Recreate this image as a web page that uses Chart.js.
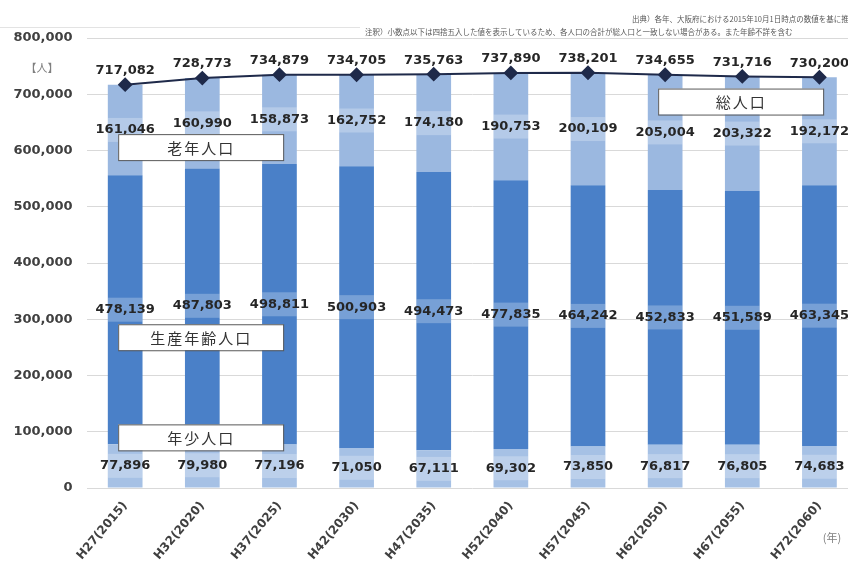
<!DOCTYPE html>
<html lang="ja">
<head>
<meta charset="utf-8">
<script src="https://cdn.jsdelivr.net/npm/chart.js@4.4.1/dist/chart.umd.min.js"></script>
<style>
  html, body { margin: 0; padding: 0; overflow: hidden; background: #fff; }
  #wrap { width: 866px; height: 566px; }
</style>
</head>
<body>
<div id="wrap"><canvas id="popChart" width="866" height="566"></canvas></div>
<script>
const years = ["H27(2015)", "H32(2020)", "H37(2025)", "H42(2030)", "H47(2035)",
               "H52(2040)", "H57(2045)", "H62(2050)", "H67(2055)", "H72(2060)"];
const young   = [77896, 79980, 77196, 71050, 67111, 69302, 73850, 76817, 76805, 74683];
const working = [478139, 487803, 498811, 500903, 494473, 477835, 464242, 452833, 451589, 463345];
const elderly = [161046, 160990, 158873, 162752, 174180, 190753, 200109, 205004, 203322, 192172];
const total   = [717082, 728773, 734879, 734705, 735763, 737890, 738201, 734655, 731716, 730200];
const yMax = 800000;
const yStep = 100000;

const fmt = (v) => v.toLocaleString("en-US");
const numFont = "bold 13px 'DejaVu Sans', sans-serif";
const jpFont = "15px 'Noto Sans CJK JP', sans-serif";

// labels in the middle of each segment, with a lighter band behind
const valueLabels = {
  id: "valueLabels",
  afterDatasetsDraw(chart) {
    const ctx = chart.ctx;
    ctx.save();
    ctx.font = numFont;
    ctx.textAlign = "center";
    ctx.textBaseline = "middle";
    chart.data.datasets.forEach((ds, i) => {
      const meta = chart.getDatasetMeta(i);
      meta.data.forEach((el, j) => {
        const txt = fmt(ds.data[j]);
        if (ds.type === "line") {
          ctx.fillStyle = "#262626";
          ctx.fillText(txt, el.x, el.y - 14);
        } else {
          const cy = (el.y + el.base) / 2;
          ctx.fillStyle = "rgba(255,255,255,0.25)";
          ctx.fillRect(el.x - el.width / 2, cy - 12, el.width, 24);
          ctx.fillStyle = "#262626";
          ctx.fillText(txt, el.x, cy);
        }
      });
    });
    ctx.restore();
  }
};

// name boxes + notes
const boxes = [
  { text: "老年人口",     cat: 0, value: 606000 },
  { text: "生産年齢人口", cat: 0, value: 268000 },
  { text: "年少人口",     cat: 0, value: 90000 },
  { text: "総人口",       cat: 7, value: 687000 }
];

const annotations = {
  id: "annotations",
  afterDraw(chart) {
    const ctx = chart.ctx;
    const x = chart.scales.x;
    const y = chart.scales.y;
    ctx.save();
    boxes.forEach((b) => {
      const left = x.getPixelForValue(b.cat) - 7;
      const cy = y.getPixelForValue(b.value);
      ctx.fillStyle = "#fff";
      ctx.fillRect(left, cy - 13, 165, 26);
      ctx.strokeStyle = "#595959";
      ctx.lineWidth = 1;
      ctx.strokeRect(left + 0.5, cy - 12.5, 165, 26);
      ctx.fillStyle = "#333";
      ctx.font = jpFont;
      ctx.letterSpacing = "2px";
      ctx.textAlign = "center";
      ctx.textBaseline = "middle";
      ctx.fillText(b.text, left + 83, cy + 1);
    });
    ctx.letterSpacing = "0px";

    ctx.fillStyle = "#7f7f7f";
    ctx.font = "11px 'Noto Sans CJK JP', sans-serif";
    ctx.textAlign = "center";
    ctx.fillText("【人】", 42, 68);
    ctx.fillText("(年)", 832, 538);

    ctx.fillStyle = "#595959";
    ctx.font = "7.5px 'Noto Sans CJK JP', sans-serif";
    ctx.textAlign = "left";
    ctx.fillText("出典）各年、大阪府における2015年10月1日時点の数値を基に推計", 632, 19);
    ctx.fillText("注釈）小数点以下は四捨五入した値を表示しているため、各人口の合計が総人口と一致しない場合がある。また年齢不詳を含む", 365, 32);

    ctx.strokeStyle = "#e3e3e3";
    ctx.beginPath();
    ctx.moveTo(0, 27.5);
    ctx.lineTo(360, 27.5);
    ctx.stroke();
    ctx.restore();
  }
};

new Chart(document.getElementById("popChart"), {
  data: {
    labels: years,
    datasets: [
      {
        type: "line",
        label: "総人口",
        data: total,
        stack: "total",
        order: 0,
        borderColor: "#1f2a4a",
        backgroundColor: "#1f2a4a",
        borderWidth: 2,
        pointStyle: "rectRot",
        pointRadius: 6,
        pointHoverRadius: 6
      },
      {
        type: "bar",
        label: "年少人口",
        data: young,
        stack: "pop",
        order: 1,
        backgroundColor: "#a6c1e5",
        categoryPercentage: 0.9,
        barPercentage: 0.5
      },
      {
        type: "bar",
        label: "生産年齢人口",
        data: working,
        stack: "pop",
        order: 1,
        backgroundColor: "#4a80c8",
        categoryPercentage: 0.9,
        barPercentage: 0.5
      },
      {
        type: "bar",
        label: "老年人口",
        data: elderly,
        stack: "pop",
        order: 1,
        backgroundColor: "#9bb8e0",
        categoryPercentage: 0.9,
        barPercentage: 0.5
      }
    ]
  },
  options: {
    responsive: false,
    animation: false,
    layout: { padding: { top: 38, right: 2, left: 0, bottom: 0 } },
    plugins: {
      legend: { display: false },
      tooltip: { enabled: false }
    },
    scales: {
      x: {
        stacked: true,
        grid: { display: false },
        border: { display: false },
        ticks: {
          minRotation: 50,
          maxRotation: 50,
          color: "#404040",
          font: { family: "'DejaVu Sans', sans-serif", size: 12, weight: "bold" }
        },
        afterFit(scale) { scale.height = 78; }
      },
      y: {
        stacked: true,
        min: 0,
        max: yMax,
        grid: { color: "#d9d9d9", drawTicks: false },
        border: { display: false },
        ticks: {
          stepSize: yStep,
          padding: 14,
          color: "#404040",
          font: { family: "'DejaVu Sans', sans-serif", size: 13, weight: "bold" },
          callback: (v) => fmt(v)
        },
        afterFit(scale) { scale.width = 86.6; }
      }
    }
  },
  plugins: [valueLabels, annotations]
});
</script>
</body>
</html>
